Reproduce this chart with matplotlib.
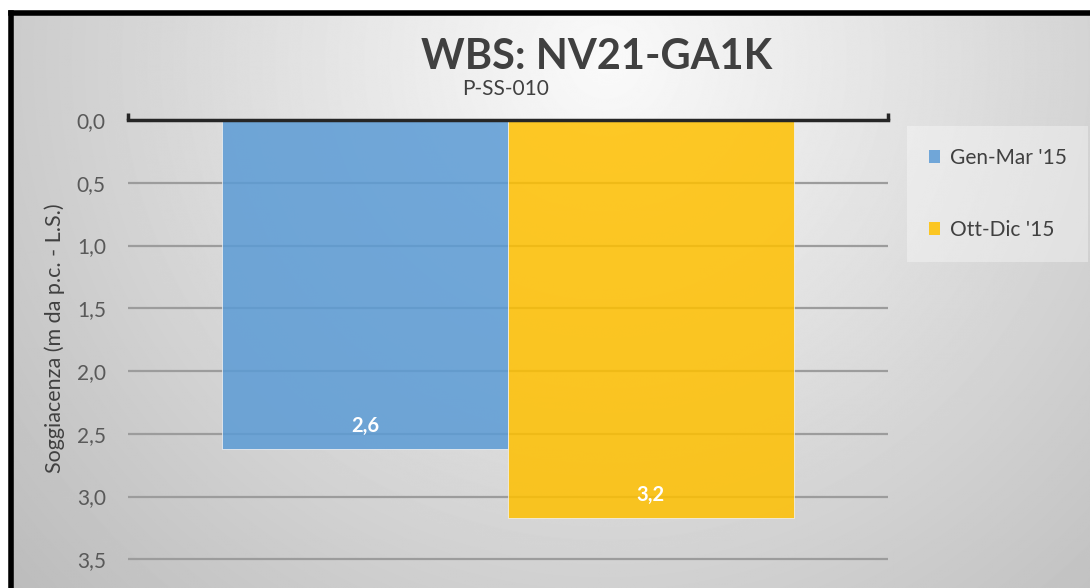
import numpy as np
import matplotlib.pyplot as plt
from matplotlib.patches import Patch

# Soggiacenza data for piezometer P-SS-010
periods = ["Gen-Mar '15", "Ott-Dic '15"]
depths = [2.62, 3.17]          # m from ground level
colors = ['#5b9bd5', '#ffc000']
yticks = [0.0, 0.5, 1.0, 1.5, 2.0, 2.5, 3.0, 3.5]

plt.rcParams['font.family'] = ['Lato', 'DejaVu Sans']

W, H = 1090, 588
fig = plt.figure(figsize=(W / 100, H / 100), dpi=100)

# background panel with soft radial shading and black frame
bg = fig.add_axes([0, 0, 1, 1])
bg.set_xlim(0, W)
bg.set_ylim(H, 0)
bg.axis('off')
xx, yy = np.meshgrid(np.arange(W), np.arange(H))
d = np.hypot(xx - 600, yy - 50)
shade = np.clip(250 - 62 * d / 800, 185, 250) / 255
bg.imshow(shade, cmap='gray', vmin=0, vmax=1, extent=(11, W, H, 12),
          aspect='auto', interpolation='bilinear')
bg.plot([10.5, 10.5], [H, 12.5], color='black', lw=4, solid_capstyle='projecting')
bg.plot([10.5, W], [12.5, 12.5], color='black', lw=4, solid_capstyle='projecting')

ax = fig.add_axes([128 / W, -34 / H, 760 / W, 502 / H])
ax.patch.set_alpha(0)

width = 0.376
for i, (lab, v, c) in enumerate(zip(periods, depths, colors)):
    x = (i - 0.5) * width
    ax.bar(x, v, width=width, color=c, alpha=0.85, edgecolor='#f4f4f4',
           linewidth=0.6, label=lab, zorder=2)
    ax.annotate(f'{v:.1f}'.replace('.', ','), (x, v), xytext=(0, 16.5),
                textcoords='offset points', ha='center', va='center',
                color='white', fontsize=14.5, fontweight='bold', zorder=4)

ax.set_xlim(-0.5, 0.5)
ax.set_ylim(4.0, 0)
ax.set_yticks(yticks)
ax.set_yticklabels([f'{t:.1f}'.replace('.', ',') for t in yticks],
                   color='#595959', fontsize=15)
ax.tick_params(axis='y', length=0, pad=16)
ax.yaxis.grid(True, color='#9c9c9c', lw=1.6, zorder=1)
ax.set_axisbelow(True)

ax.xaxis.tick_top()
ax.set_xticks([-0.5, 0.5])
ax.set_xticklabels(['', ''])
ax.tick_params(axis='x', direction='out', length=5, width=2.5, color='#262626')
for s in ['left', 'right', 'bottom']:
    ax.spines[s].set_visible(False)
ax.spines['top'].set_color('#262626')
ax.spines['top'].set_linewidth(2.5)
ax.spines['top'].set_zorder(5)

fig.text(55 / W, 1 - 338 / H, 'Soggiacenza (m da p.c. - L.S.)', rotation=90,
         ha='center', va='center', color='#404040', fontsize=15.5)

fig.text(597 / W, 1 - 57 / H, 'WBS: NV21-GA1K', ha='center', va='center',
         fontsize=30, fontweight='bold', color='#404040')
fig.text(506 / W, 1 - 89 / H, 'P-SS-010', ha='center', va='center',
         fontsize=15, color='#404040')

handles = [Patch(facecolor=c, alpha=0.85, edgecolor='none') for c in colors]
leg = fig.legend(handles, periods, loc='upper left',
                 bbox_to_anchor=(907 / W, 1 - 126 / H), borderaxespad=0,
                 frameon=True, fontsize=15, labelspacing=2.5,
                 handlelength=0.55, handleheight=0.55, handletextpad=0.45,
                 borderpad=1.05, labelcolor='#404040')
leg.get_frame().set_facecolor('white')
leg.get_frame().set_alpha(0.35)
leg.get_frame().set_edgecolor('none')
leg.get_frame().set_boxstyle('square', pad=0)

fig.savefig('out.png', dpi=100)
